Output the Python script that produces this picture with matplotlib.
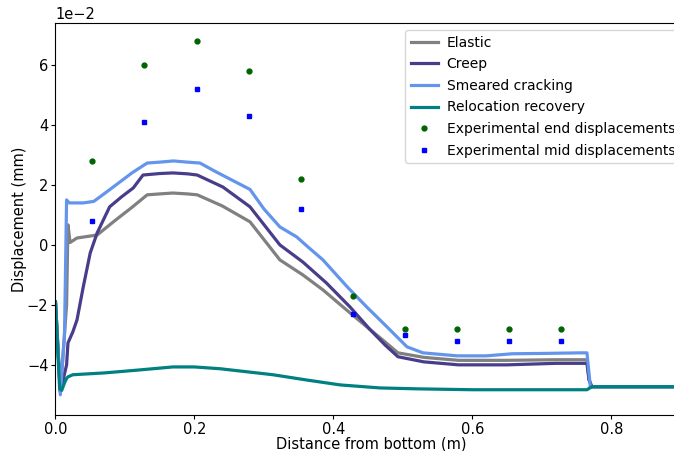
import matplotlib
matplotlib.use("Agg")
from matplotlib import pyplot as plt
import numpy as np

plt.rcParams["font.size"] = 10.5
plt.rcParams["xtick.major.size"] = 3
plt.rcParams["ytick.major.size"] = 3
plt.rcParams["xtick.major.pad"] = 2
plt.rcParams["ytick.major.pad"] = 2

# x positions (m) and displacements (units of 1e-2)
x_elastic = [0.0, 0.007, 0.016, 0.018, 0.021, 0.031, 0.06, 0.085, 0.11, 0.132, 0.15, 0.169, 0.19, 0.204,
             0.24, 0.28, 0.323, 0.356, 0.385, 0.419, 0.448, 0.47, 0.493, 0.53, 0.58, 0.65, 0.72, 0.765, 0.768,
             0.772, 0.8, 0.95]
y_elastic = [-1.9, -4.9, -2.0, 0.67, 0.08, 0.23, 0.33, 0.8, 1.25, 1.67, 1.7, 1.73, 1.7, 1.67,
             1.3, 0.77, -0.5, -1.0, -1.5, -2.17, -2.73, -3.15, -3.6, -3.75, -3.85, -3.85, -3.83, -3.83, -4.5,
             -4.73, -4.73, -4.73]

x_creep = [0.0, 0.007, 0.016, 0.018, 0.025, 0.031, 0.04, 0.05, 0.06, 0.078, 0.095, 0.112, 0.126, 0.15,
           0.169, 0.19, 0.204, 0.241, 0.28, 0.323, 0.356, 0.39, 0.424, 0.453, 0.475, 0.493, 0.53, 0.58, 0.65,
           0.72, 0.765, 0.768, 0.772, 0.8, 0.95]
y_creep = [-1.9, -4.9, -4.0, -3.27, -2.9, -2.5, -1.4, -0.27, 0.4, 1.27, 1.6, 1.9, 2.33, 2.38,
           2.4, 2.37, 2.33, 1.93, 1.27, 0.0, -0.57, -1.27, -2.07, -2.83, -3.35, -3.73, -3.9, -4.0, -4.0,
           -3.95, -3.95, -4.5, -4.73, -4.73, -4.73]

x_smeared = [0.0, 0.007, 0.013, 0.016, 0.02, 0.04, 0.055, 0.064, 0.09, 0.11, 0.132, 0.15, 0.17, 0.19,
             0.208, 0.23, 0.255, 0.28, 0.3, 0.323, 0.347, 0.365, 0.385, 0.42, 0.448, 0.477, 0.506,
             0.529, 0.578, 0.62, 0.658, 0.7, 0.755, 0.765, 0.77, 0.775, 0.8, 0.95]
y_smeared = [-1.9, -5.0, -3.0, 1.5, 1.4, 1.4, 1.45, 1.6, 2.05, 2.4, 2.73, 2.76, 2.8, 2.76,
             2.73, 2.45, 2.15, 1.85, 1.2, 0.6, 0.27, -0.1, -0.5, -1.4, -2.07, -2.73, -3.4,
             -3.6, -3.7, -3.7, -3.63, -3.62, -3.6, -3.6, -4.75, -4.73, -4.73, -4.73]

x_reloc = [0.0, 0.006, 0.009, 0.013, 0.016, 0.018, 0.025, 0.07, 0.121, 0.169, 0.2, 0.237, 0.275, 0.313,
           0.36, 0.41, 0.467, 0.52, 0.6, 0.7, 0.765, 0.772, 0.8, 0.95]
y_reloc = [-1.9, -4.8, -4.85, -4.6, -4.45, -4.4, -4.33, -4.27, -4.17, -4.07, -4.07, -4.13, -4.23, -4.33,
           -4.5, -4.67, -4.77, -4.8, -4.83, -4.83, -4.83, -4.73, -4.73, -4.73]

x_exp = [0.053, 0.128, 0.203, 0.278, 0.353, 0.428, 0.503, 0.578, 0.653, 0.728]
y_end = [2.8, 6.0, 6.8, 5.8, 2.2, -1.7, -2.8, -2.8, -2.8, -2.8]
y_mid = [0.8, 4.1, 5.2, 4.3, 1.2, -2.3, -3.0, -3.2, -3.2, -3.2]

scale = 1e-2

fig = plt.figure(figsize=(6.74, 4.51), dpi=100)
ax = fig.add_axes([0.0823, 0.080, 0.938, 0.869])

ax.plot(x_elastic, np.array(y_elastic) * scale, color="grey", lw=2.3, label="Elastic")
ax.plot(x_creep, np.array(y_creep) * scale, color="darkslateblue", lw=2.3, label="Creep")
ax.plot(x_smeared, np.array(y_smeared) * scale, color="cornflowerblue", lw=2.3, label="Smeared cracking")
ax.plot(x_reloc, np.array(y_reloc) * scale, color="teal", lw=2.3, label="Relocation recovery")
ax.plot(x_exp, np.array(y_end) * scale, "o", color="darkgreen", ms=3.5, label="Experimental end displacements")
ax.plot(x_exp, np.array(y_mid) * scale, "s", color="blue", ms=3.5, label="Experimental mid displacements")

ax.set_xlim(0, 0.91)
ax.set_ylim(-5.67 * scale, 7.4 * scale)
ax.ticklabel_format(style="sci", axis="y", scilimits=(0, 0))
ax.set_xlabel("Distance from bottom (m)", labelpad=0)
ax.set_ylabel("Displacement (mm)", labelpad=0)
ax.legend(loc="upper right", fontsize=10, handletextpad=0.6, labelspacing=0.55)

fig.savefig("out.png", dpi=100)
